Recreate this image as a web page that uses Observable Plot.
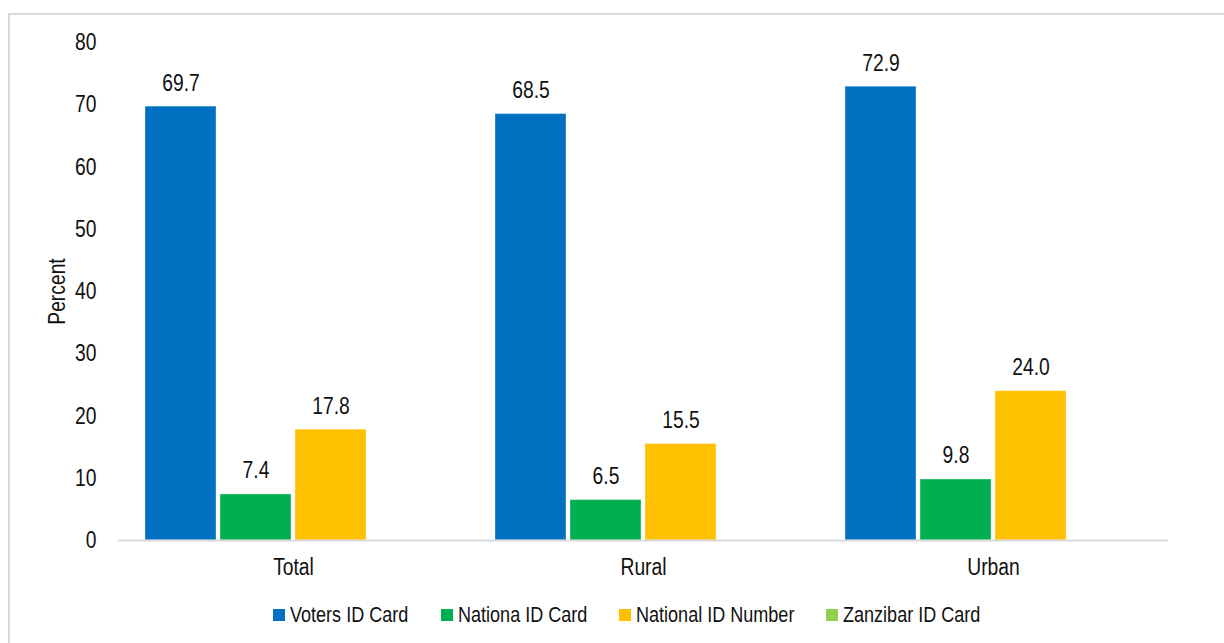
<!DOCTYPE html>
<html>
<head>
<meta charset="utf-8">
<script src="https://cdn.jsdelivr.net/npm/d3@7"></script>
<script src="https://cdn.jsdelivr.net/npm/@observablehq/plot@0.6"></script>
<style>
  html, body { margin: 0; padding: 0; background: #fff; }
  body { width: 1224px; height: 643px; position: relative; overflow: hidden;
         font-family: "Liberation Sans", Arial, sans-serif; }
  #frame { position: absolute; left: 8px; top: 13px; width: 1220px; height: 700px;
           border: 2px solid #d9d9d9; box-sizing: border-box; }
  #chart { position: absolute; left: 0; top: 0; }
  #legend { position: absolute; left: 0; top: 603px; width: 1224px; display: flex;
            justify-content: center; font-size: 22px; color: #111; padding-left: 30px; box-sizing: border-box; }
  .item { display: flex; align-items: center; margin: 0 16px; line-height: 24px; }
  .sw { width: 12px; height: 12px; margin-right: 5px; display: inline-block; flex: none; }
  .lbl { display: inline-block; overflow: visible; white-space: nowrap; }
  .lbl span { display: inline-block; transform-origin: 0 50%; white-space: nowrap; }
</style>
</head>
<body>
<div id="frame"></div>
<div id="chart"></div>
<div id="legend"></div>
<script>
const categories = ["Total", "Rural", "Urban"];
const series = ["Voters ID Card", "Nationa ID Card", "National ID Number", "Zanzibar ID Card"];
const colors = ["#0070C0", "#00B050", "#FFC000", "#92D050"];
const votersIdCard = [69.7, 68.5, 72.9];
const nationaIdCard = [7.4, 6.5, 9.8];
const nationalIdNumber = [17.8, 15.5, 24.0];
const zanzibarIdCard = [null, null, null];
const yTicks = [0, 10, 20, 30, 40, 50, 60, 70, 80];

const NARROW = 0.82;

const seriesValues = [votersIdCard, nationaIdCard, nationalIdNumber, zanzibarIdCard];
const data = [];
categories.forEach((c, i) => {
  series.forEach((s, j) => {
    const v = seriesValues[j][i];
    if (v != null) data.push({category: c, series: s, value: v});
  });
});

const chart = Plot.plot({
  width: 1224,
  height: 590,
  marginTop: 42,
  marginBottom: 50,
  marginLeft: 117,
  marginRight: 55,
  style: {fontFamily: '"Liberation Sans", Arial, sans-serif', fontSize: "23.5px", color: "#111", background: "transparent"},
  fx: {domain: categories, padding: 0, label: null, tickSize: 0, tickPadding: 18},
  x: {domain: series, axis: null, paddingInner: 0.047, paddingOuter: 0.338},
  y: {domain: [0, 80], ticks: yTicks, tickSize: 0, tickPadding: 22, label: "Percent", labelAnchor: "center", labelArrow: "none", labelOffset: 70},
  color: {domain: series, range: colors},
  marks: [
    Plot.barY(data, {fx: "category", x: "series", y: "value", fill: "series", stroke: "#ffffff", strokeOpacity: 0.35, strokeWidth: 1}),
    Plot.ruleY([0], {stroke: "#d9d9d9", strokeWidth: 2}),
    Plot.text(data, {fx: "category", x: "series", y: "value", text: d => d.value.toFixed(1), dy: -16, lineAnchor: "bottom", fill: "#111", fontSize: 23.5})
  ]
});
document.getElementById("chart").appendChild(chart);

// condense all SVG text to mimic a narrow typeface
chart.querySelectorAll("text").forEach(t => {
  const targets = t.querySelectorAll("tspan").length ? t.querySelectorAll("tspan") : [t];
  targets.forEach(el => {
    const len = el.getComputedTextLength();
    if (len > 0) {
      el.setAttribute("textLength", (len * NARROW).toFixed(2));
      el.setAttribute("lengthAdjust", "spacingAndGlyphs");
    }
  });
});

const legend = document.getElementById("legend");
series.forEach((s, j) => {
  const it = document.createElement("div");
  it.className = "item";
  const sw = document.createElement("span");
  sw.className = "sw";
  sw.style.background = colors[j];
  it.appendChild(sw);
  const wrap = document.createElement("span");
  wrap.className = "lbl";
  const t = document.createElement("span");
  t.textContent = s;
  wrap.appendChild(t);
  it.appendChild(wrap);
  legend.appendChild(it);
  const w = t.getBoundingClientRect().width;
  wrap.style.width = (w * NARROW) + "px";
  t.style.transform = `scaleX(${NARROW})`;
});
</script>
</body>
</html>
